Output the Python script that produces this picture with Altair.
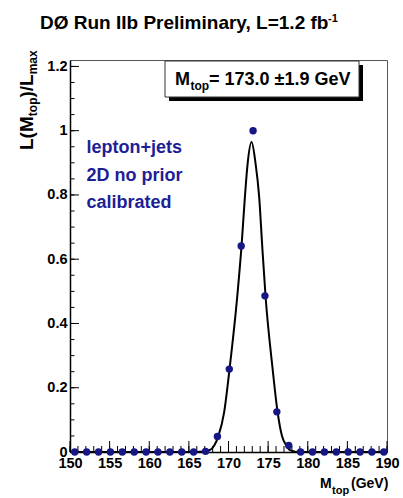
import altair as alt
import pandas as pd

# ---- data ----
mass_pts = [150.6, 152.1, 153.6, 155.1, 156.6, 158.1, 159.6, 161.1, 162.6,
            164.1, 165.6, 167.1, 168.6, 170.1, 171.6, 173.1, 174.6, 176.1,
            177.6, 179.1, 180.6, 182.1, 183.6, 185.1, 186.6, 188.1, 189.6]
like_pts = [0, 0, 0, 0, 0, 0, 0, 0, 0,
            0, 0, 0.002, 0.048, 0.258, 0.641, 1.0, 0.486, 0.125,
            0.02, 0, 0, 0, 0, 0, 0, 0, 0]

fit_mass = [150.0, 166.0, 167.65, 168.2, 168.7, 169.46, 170.14, 171.1, 171.65,
            172.07, 172.41, 172.91, 173.42, 173.87, 174.25, 174.68, 175.56,
            176.19, 176.77, 177.3, 177.74, 179.0, 190.0]
fit_like = [0, 0, 0.006, 0.02, 0.048, 0.125, 0.26, 0.483, 0.643,
            0.794, 0.897, 0.965, 0.897, 0.794, 0.643, 0.483, 0.26,
            0.125, 0.048, 0.02, 0.006, 0, 0]

x_major = [150, 155, 160, 165, 170, 175, 180, 185, 190]
x_minor = [150 + i for i in range(41)]
y_major = [0, 0.2, 0.4, 0.6, 0.8, 1.0, 1.2]
y_minor = [round(0.05 * i, 2) for i in range(25)]

title_text = "DØ Run IIb Preliminary, L=1.2 fb"
title_sup = "-1"
box_main = "= 173.0 ±1.9 GeV"
label_lines = ["lepton+jets", "2D no prior", "calibrated"]

# ---- styles ----
W, H = 317, 392
XD = [150, 190]
YD = [0, 1.22]
FONT = "Liberation Sans, Arial, Helvetica, sans-serif"
BLUE_TXT = "#1e1e96"
BLUE_PT = "#161684"

xs = alt.Scale(domain=XD, nice=False, zero=False)
ys = alt.Scale(domain=YD, nice=False, zero=False)

pts = pd.DataFrame({"m": mass_pts, "L": like_pts})
fit = pd.DataFrame({"m": fit_mass, "L": fit_like})

x_axis = alt.Axis(values=x_major, format="d", labelFont=FONT, labelFontSize=14.5,
                  labelFontWeight="bold", labelColor="black", tickSize=0,
                  labelPadding=4, labelFlush=False, labelOverlap=False,
                  domainColor="black", domainWidth=1.5, grid=False, title=None)
y_axis = alt.Axis(values=y_major, format=".1~f", labelFont=FONT, labelFontSize=14.5,
                  labelFontWeight="bold", labelColor="black", tickSize=0,
                  labelPadding=3, labelFlush=False, labelOverlap=False,
                  domainColor="black", domainWidth=1.5, grid=False, title=None)

X = lambda f: alt.X(f, scale=xs, axis=x_axis)
Y = lambda f: alt.Y(f, scale=ys, axis=y_axis)

curve = alt.Chart(fit).mark_line(color="black", strokeWidth=2, interpolate="monotone").encode(
    x=X("m:Q"), y=Y("L:Q"))

dots = alt.Chart(pts).mark_circle(color=BLUE_PT, opacity=1, size=55).encode(
    x=X("m:Q"), y=Y("L:Q"))

def xticks(vals, length):
    return alt.Chart(pd.DataFrame({"m": vals})).mark_rule(color="black", strokeWidth=1).encode(
        x=X("m:Q"), y=alt.value(H), y2=alt.value(H - length))

def yticks(vals, length):
    return alt.Chart(pd.DataFrame({"L": vals})).mark_rule(color="black", strokeWidth=1).encode(
        y=Y("L:Q"), x=alt.value(0), x2=alt.value(length))

one = pd.DataFrame({"k": [0]})

def txt(s, x, y, size, color="black", angle=0):
    props = dict(text=s, fontSize=size, font=FONT, fontWeight="bold", color=color,
                 align="left", baseline="alphabetic")
    if angle:
        props["angle"] = angle
    return alt.Chart(one).mark_text(**props).encode(x=alt.value(x), y=alt.value(y))

# box with shadow
shadow = alt.Chart(one).mark_rect(color="black").encode(
    x=alt.value(99), x2=alt.value(293), y=alt.value(5), y2=alt.value(41))
box = alt.Chart(one).mark_rect(fill="white", stroke="#333333", strokeWidth=1).encode(
    x=alt.value(95), x2=alt.value(289), y=alt.value(1), y2=alt.value(37))

layers = [
    xticks(x_minor, 6), xticks(x_major, 11),
    yticks(y_minor, 4.5), yticks(y_major, 9),
    curve, dots,
    shadow, box,
    txt("M", 105, 25, 18), txt("top", 120.5, 30, 12), txt(box_main, 139, 25, 18),
    txt(label_lines[0], 16.5, 93, 18, color=BLUE_TXT),
    txt(label_lines[1], 16.5, 120.5, 18, color=BLUE_TXT),
    txt(label_lines[2], 16.5, 148, 18, color=BLUE_TXT),
    # title
    txt(title_text, -30, -31, 19),
    txt(title_sup, 258, -38, 11),
    # x-axis title
    txt("M", 250, 428, 14), txt("top", 262, 434, 11), txt("(GeV)", 281, 428, 14),
    # y-axis title (rotated)
    txt("L(M", -37, 90, 19, angle=270),
    txt("top", -33, 56.2, 12, angle=270),
    txt(")/L", -37, 37.5, 19, angle=270),
    txt("max", -33, 14.3, 12, angle=270),
]

chart = alt.layer(*layers).properties(
    width=W, height=H,
    autosize=alt.AutoSizeParams(type="none"),
    padding={"left": 70, "top": 60, "right": 16, "bottom": 46},
    background="white",
).configure_view(stroke="#555555", strokeWidth=1)

chart.save("out.html", embed_options={"renderer": "svg", "actions": False})
